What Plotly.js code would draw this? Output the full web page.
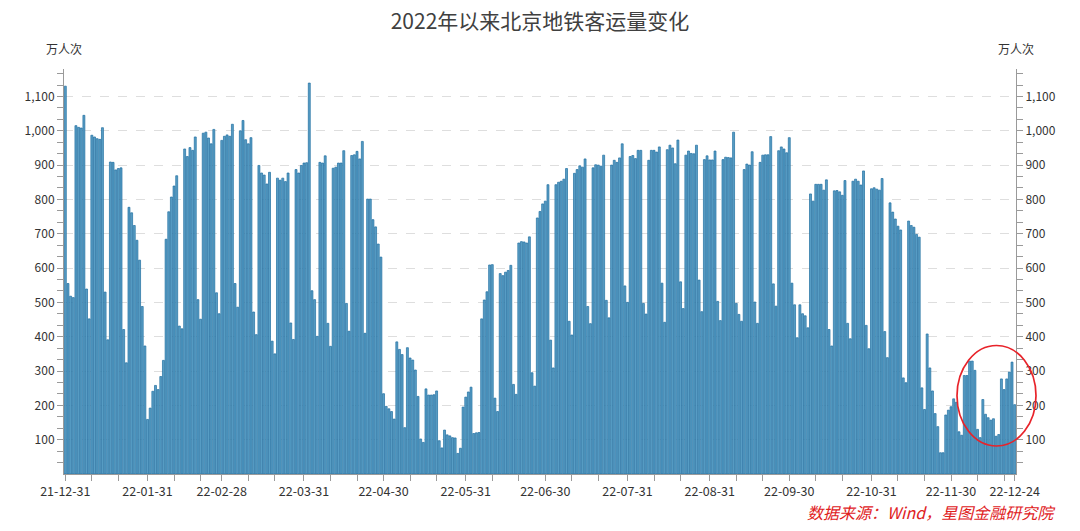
<!DOCTYPE html>
<html>
<head>
<meta charset="utf-8">
<script src="https://cdn.plot.ly/plotly-3.0.1.min.js"></script>
<style>
html,body{margin:0;padding:0;background:#fff;}
#chart{width:1080px;height:531px;}
</style>
</head>
<body>
<div id="chart"></div>
<script>
// ---- data (万人次, daily) ----
const dec2021 = [1130]; // 2021-12-31
const months = ['2022-01','2022-02','2022-03','2022-04','2022-05','2022-06','2022-07','2022-08','2022-09','2022-10','2022-11','2022-12'];
const jan = [555,518,514,1015,1010,1008,1045,539,452,987,982,977,975,1009,530,391,909,908,886,890,892,421,324,777,761,724,681,623,488,373,159];
const feb = [192,241,258,246,284,331,684,764,807,839,869,431,423,947,925,951,943,982,508,451,993,996,979,962,1004,528,467,972];
const mar = [984,988,984,1019,555,486,1000,1030,974,962,980,472,406,899,877,871,845,879,387,350,862,856,862,852,877,440,392,887,877,899,906];
const apr = [907,1139,534,508,401,908,906,927,439,372,891,894,906,906,942,497,416,928,930,940,918,969,410,801,801,741,720,670,632,234];
const may = [197,190,182,160,385,363,348,135,368,338,332,303,226,102,92,248,230,230,231,242,97,76,128,114,111,106,105,60,75,195,224];
const jun = [239,253,118,120,121,452,507,531,609,610,221,182,584,578,588,593,608,261,232,673,677,676,673,691,295,256,746,765,787,795];
const jul = [843,390,309,843,850,853,859,890,445,405,876,887,898,894,918,488,438,892,901,900,897,929,506,455,900,914,908,921,962,548,500];
const aug = [925,928,919,943,943,497,466,914,943,943,938,953,556,442,945,958,950,904,973,560,482,929,941,934,933,958,565,473,916,927,915];
const sep = [915,941,503,447,916,923,922,921,996,497,465,445,887,903,900,939,501,439,908,929,930,930,983,554,489,942,953,947,936,980];
const oct = [556,493,397,493,467,461,426,816,795,844,844,844,827,857,421,373,825,826,822,812,855,439,394,853,859,853,842,883,433,365,831];
const nov = [834,830,827,861,415,339,790,763,743,722,711,280,266,737,724,719,698,690,251,188,408,309,242,176,138,62,62,172,186,196];
const dec = [219,209,123,113,287,287,329,329,302,130,106,217,174,164,157,161,110,115,277,246,277,297,326,202];
const monthValues = [jan,feb,mar,apr,may,jun,jul,aug,sep,oct,nov,dec];

// x tick labels
const tickDates = ['2021-12-31','2022-01-31','2022-02-28','2022-03-31','2022-04-30','2022-05-31','2022-06-30','2022-07-31','2022-08-31','2022-09-30','2022-10-31','2022-11-30','2022-12-24'];
const tickLabels = ['21-12-31','22-01-31','22-02-28','22-03-31','22-04-30','22-05-31','22-06-30','22-07-31','22-08-31','22-09-30','22-10-31','22-11-30','22-12-24'];
const minorTickDates = ['2022-01-10','2022-01-20','2022-02-10','2022-02-20','2022-03-10','2022-03-20','2022-04-10','2022-04-20','2022-05-10','2022-05-20','2022-06-10','2022-06-20','2022-07-10','2022-07-20','2022-08-10','2022-08-20','2022-09-10','2022-09-20','2022-10-10','2022-10-20','2022-11-10','2022-11-20','2022-12-10','2022-12-20'];
const yTickVals = [100,200,300,400,500,600,700,800,900,1000,1100];
const yTickText = ['100','200','300','400','500','600','700','800','900','1,000','1,100'];

// build categories
const dates = ['2021-12-31'];
const values = dec2021.slice();
monthValues.forEach((arr, m) => {
  arr.forEach((v, i) => {
    dates.push(months[m] + '-' + String(i + 1).padStart(2, '0'));
    values.push(v);
  });
});

const yMinor = [];
for (let v = 0; v < 1180; v += 100) { yMinor.push(v + 100/3, v + 200/3); }

const FONT = '"Noto Sans CJK SC", "Noto Sans", sans-serif';
const axisCommon = {
  range: [0, 1180],
  tickmode: 'array', tickvals: yTickVals, ticktext: yTickText,
  ticks: 'outside', ticklen: 6, tickcolor: '#9a9a9a', tickwidth: 1,
  showline: true, linecolor: '#9a9a9a', linewidth: 1,
  zeroline: false,
  tickfont: {family: FONT, size: 12, color: '#333'},
  minor: {tickvals: yMinor, ticks: 'outside', ticklen: 6, tickcolor: '#9a9a9a', showgrid: false},
  fixedrange: true
};

const trace = {
  type: 'bar',
  x: dates,
  y: values,
  marker: {color: '#5a9fc6', line: {color: '#1f6ea1', width: 0.7}},
  hoverinfo: 'x+y'
};
// carrier for the right-hand axis (draws nothing)
const rightAxisCarrier = {
  type: 'scatter', mode: 'markers', x: [dates[0]], y: [null], yaxis: 'y2',
  marker: {opacity: 0}, hoverinfo: 'skip', showlegend: false
};

const layout = {
  width: 1080, height: 531,
  margin: {l: 64, r: 64, t: 69, b: 57, pad: 0},
  paper_bgcolor: '#fff', plot_bgcolor: '#fff',
  showlegend: false,
  bargap: 0.26,
  font: {family: FONT, color: '#333'},
  title: {text: '2022年以来北京地铁客运量变化', font: {family: FONT, size: 21, color: '#404040'},
          x: 0.5, xref: 'container', xanchor: 'center', y: 1 - 22/531, yref: 'container', yanchor: 'middle'},
  xaxis: {
    type: 'date',
    range: ['2021-12-30 12:00', '2022-12-24 12:00'],
    tickmode: 'array', tickvals: tickDates, ticktext: tickLabels,
    ticks: 'outside', ticklen: 6, tickcolor: '#9a9a9a',
    showline: true, linecolor: '#9a9a9a', linewidth: 1,
    showgrid: false, zeroline: false,
    tickfont: {family: FONT, size: 12.5, color: '#333'},
    minor: {tickvals: minorTickDates, ticks: 'outside', ticklen: 6, tickcolor: '#9a9a9a', showgrid: false},
    fixedrange: true
  },
  yaxis: Object.assign({}, axisCommon, {side: 'left', showgrid: true, gridcolor: '#dedede', gridwidth: 1, griddash: 'dash'}),
  yaxis2: Object.assign({}, axisCommon, {side: 'right', overlaying: 'y', anchor: 'x', showgrid: false}),
  annotations: [
    {text: '万人次', xref: 'paper', yref: 'paper', x: 0, y: 1 + 21/405, xanchor: 'center', yanchor: 'middle', showarrow: false, font: {family: FONT, size: 12, color: '#333'}},
    {text: '万人次', xref: 'paper', yref: 'paper', x: 1, y: 1 + 21/405, xanchor: 'center', yanchor: 'middle', showarrow: false, font: {family: FONT, size: 12, color: '#333'}},
    {text: '<i>数据来源：Wind，星图金融研究院</i>', xref: 'paper', yref: 'paper', x: (1058-64)/952, y: -(512-474)/405, xanchor: 'right', yanchor: 'middle', showarrow: false, font: {family: FONT, size: 16, color: '#e0211d'}}
  ],
  shapes: [
    {type: 'circle', xref: 'paper', yref: 'paper',
     x0: (957-64)/952, x1: (1036-64)/952, y0: (474-446)/405, y1: (474-345.5)/405,
     line: {color: '#e8232a', width: 1.7}, fillcolor: 'rgba(0,0,0,0)'}
  ]
};

Plotly.newPlot('chart', [trace, rightAxisCarrier], layout, {displayModeBar: false, staticPlot: true});
</script>
</body>
</html>
